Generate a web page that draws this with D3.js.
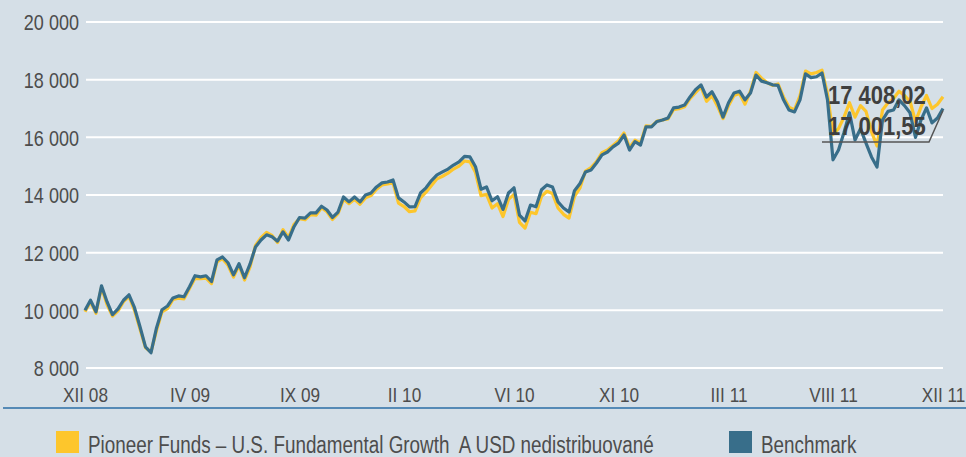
<!DOCTYPE html>
<html>
<head>
<meta charset="utf-8">
<script src="https://cdn.jsdelivr.net/npm/d3@7"></script>
<style>
  body { margin: 0; background: #d5dfe7; }
  svg { display: block; }
  text { font-family: "Liberation Sans", Arial, sans-serif; fill: #4d4d4d; }
</style>
</head>
<body>
<svg id="chart"></svg>
<script>
// weekly closes, Dec 2008 - Dec 2011
const startDate = new Date(2008, 11, 5);

const benchmark = [
  10000, 10350, 9950, 10850, 10300, 9850, 10050, 10350, 10540, 10090,
  9430, 8735, 8530, 9390, 10020, 10150, 10430, 10500, 10470, 10820,
  11200, 11160, 11200, 11000, 11750, 11850, 11650, 11230, 11620, 11130,
  11600, 12200, 12440, 12620, 12550, 12400, 12720, 12440, 12900, 13220,
  13200, 13380, 13380, 13610, 13480, 13220, 13410, 13930, 13760, 13930,
  13760, 14000, 14070, 14280, 14420, 14450, 14520, 13900, 13760, 13590,
  13600, 14070, 14250, 14500, 14700, 14800, 14900, 15040, 15150, 15340,
  15320, 14980, 14200, 14280, 13800, 13940, 13500, 14070, 14250, 13300,
  13100, 13650, 13590, 14180, 14350, 14280, 13760, 13550, 13410, 14150,
  14400, 14800, 14870, 15110, 15390, 15490, 15670, 15800, 16080, 15560,
  15850, 15730, 16360, 16360, 16550, 16600, 16670, 17020, 17050, 17120,
  17400, 17650, 17820, 17400, 17580, 17230, 16700, 17200, 17540, 17600,
  17300, 17540, 18160, 17950, 17890, 17820, 17800, 17300, 16950, 16880,
  17300, 18200, 18070, 18100, 18230, 17300, 15220, 15560, 16170, 16850,
  15910, 16300, 15800, 15320, 14970, 16600, 16900, 16950, 17300, 17100,
  16850, 16000, 16600, 17020, 16500, 16670, 17001.55
];

const fund = [
  9950, 10300, 9900, 10800, 10200, 9800, 9980, 10300, 10480, 10000,
  9350, 8700, 8560, 9300, 9950, 10060, 10380, 10420, 10400, 10760,
  11110, 11100, 11120, 10930, 11680, 11790, 11560, 11150, 11560, 11050,
  11500, 12250, 12520, 12700, 12600, 12350, 12800, 12520, 12980, 13180,
  13140, 13320, 13300, 13560, 13420, 13150, 13350, 13850, 13700, 13850,
  13680, 13900, 13980, 14200, 14350, 14380, 14420, 13720, 13600, 13420,
  13450, 13900, 14100, 14330, 14560, 14650, 14760, 14900, 15000, 15180,
  15150, 14780, 13980, 14020, 13550, 13700, 13250, 13850, 14020, 13050,
  12850, 13400, 13350, 13950, 14130, 14050, 13550, 13330, 13200, 13950,
  14250, 14830, 14950, 15160, 15470, 15560, 15720, 15880, 16150, 15650,
  15900, 15800, 16400, 16380, 16560, 16600, 16640, 16960, 16990, 17060,
  17340, 17550, 17750, 17250, 17450, 17080, 16650, 17100, 17450, 17520,
  17150, 17600, 18250, 18050, 17900, 17800, 17850, 17400, 17050, 16950,
  17450, 18300, 18200, 18250, 18330, 17500, 16100, 16300, 16700, 17200,
  16700, 17100, 16900, 16200, 15700, 16950, 17200, 17350, 17600, 17450,
  17250, 16550, 17050, 17450, 17000, 17150, 17408.02
];

const yTicks = [8000, 10000, 12000, 14000, 16000, 18000, 20000];
const xTickDates = ['2008-12-05', '2009-04-17', '2009-09-04', '2010-01-15', '2010-06-04',
  '2010-10-15', '2011-03-04', '2011-07-15', '2011-12-02'];
const xTickLabels = ['XII 08', 'IV 09', 'IX 09', 'II 10', 'VI 10', 'XI 10', 'III 11', 'VIII 11', 'XII 11'];

const legendNames = ['Pioneer Funds \u2013 U.S. Fundamental Growth  A USD nedistribuovan\u00e9', 'Benchmark'];

const colFund = '#fdc62c';
const colBench = '#386e8a';

const width = 966;
const height = 457;
// no narrow font installed, so squeeze the regular one
const narrow = 0.82;

const $svg = d3.select('#chart').attr('width', width).attr('height', height);

const dates = benchmark.map((d, i) => d3.timeWeek.offset(startDate, i));
const parse = d3.timeParse('%Y-%m-%d');

const x = d3.scaleTime()
  .domain([dates[0], dates[dates.length - 1]])
  .range([85, 943]);

const y = d3.scaleLinear()
  .domain([8000, 20000])
  .range([368, 22]);

const fmt = v => d3.format(',')(v).replace(/,/g, ' ');

// grid
const grid = $svg.append('g');
grid.selectAll('line')
  .data(yTicks)
  .enter()
  .append('line')
  .attr('x1', 86)
  .attr('x2', 943)
  .attr('y1', d => y(d))
  .attr('y2', d => y(d))
  .attr('stroke', '#fff')
  .attr('stroke-width', 2);

// y axis labels
const yAxis = d3.axisLeft(y).tickValues(yTicks).tickFormat(fmt).tickSize(0).tickPadding(0);
const $yAxis = $svg.append('g').attr('transform', 'translate(79,0)').call(yAxis);
$yAxis.select('.domain').remove();
$yAxis.selectAll('text')
  .attr('font-size', 22).attr('dy', '0.36em')
  .attr('transform', `scale(${narrow},1)`)
  .style('fill', '#4d4d4d')
  .style('font-family', '"Liberation Sans", Arial, sans-serif');

// x axis labels
const xAxis = d3.axisBottom(x)
  .tickValues(xTickDates.map(parse))
  .tickFormat((d, i) => xTickLabels[i])
  .tickSize(0)
  .tickPadding(0);
const $xAxis = $svg.append('g').attr('transform', 'translate(0,387)').call(xAxis);
$xAxis.select('.domain').remove();
$xAxis.selectAll('text')
  .attr('font-size', 21).attr('dy', '0.72em')
  .attr('transform', `scale(${narrow},1)`)
  .style('fill', '#4d4d4d')
  .style('font-family', '"Liberation Sans", Arial, sans-serif');

// baseline under the x labels
$svg.append('line')
  .attr('x1', 3).attr('x2', width)
  .attr('y1', 408).attr('y2', 408)
  .attr('stroke', '#2a6ea6')
  .attr('stroke-width', 1.6);

// lines
const line = d3.line()
  .x((d, i) => x(dates[i]))
  .y(d => y(d));

$svg.append('path')
  .datum(fund)
  .attr('d', line)
  .attr('fill', 'none')
  .attr('stroke', colFund)
  .attr('stroke-width', 3.2)
  .attr('stroke-linejoin', 'round');

$svg.append('path')
  .datum(benchmark)
  .attr('d', line)
  .attr('fill', 'none')
  .attr('stroke', colBench)
  .attr('stroke-width', 3.2)
  .attr('stroke-linejoin', 'round');

// end value labels with leader
const last = benchmark.length - 1;
const ex = x(dates[last]);
const ey = y(benchmark[last]);
$svg.append('path')
  .attr('d', `M822,142 L${ex - 14},142 L${ex},${ey + 2}`)
  .attr('fill', 'none')
  .attr('stroke', '#555')
  .attr('stroke-width', 1.5);

const valFmt = v => d3.format(',.2f')(v).replace(/,/g, ' ').replace('.', ',');
[fund[last], benchmark[last]].forEach((v, i) => {
  $svg.append('text')
    .attr('transform', `translate(828,${104 + i * 31}) scale(0.88,1)`)
    .attr('font-size', 25).attr('font-weight', 'bold')
    .style('fill', '#3f3f3f')
    .text(valFmt(v));
});

// legend
const legend = $svg.append('g');
const legendX = [56, 729];
const legendCol = [colFund, colBench];
legendNames.forEach((name, i) => {
  legend.append('rect')
    .attr('x', legendX[i]).attr('y', 431)
    .attr('width', 23).attr('height', 22)
    .attr('fill', legendCol[i]);
  legend.append('text')
    .attr('transform', `translate(${legendX[i] + 32},453) scale(${narrow},1)`)
    .attr('font-size', 23)
    .style('white-space', 'pre')
    .text(name);
});
</script>
</body>
</html>
